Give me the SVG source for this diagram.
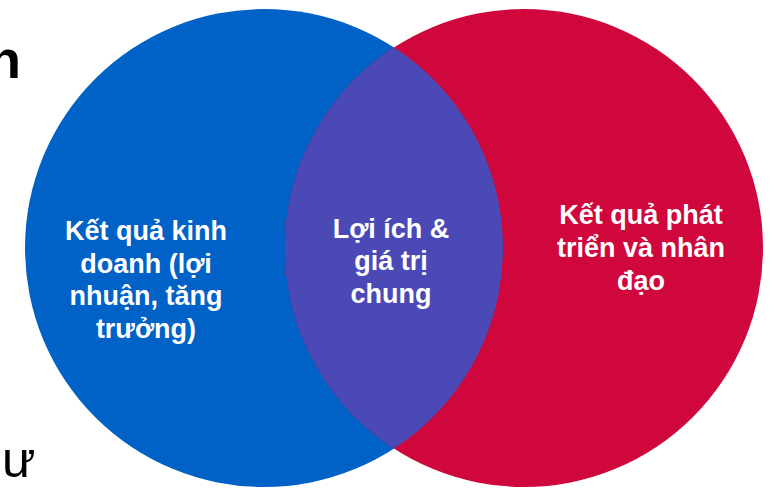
<svg xmlns="http://www.w3.org/2000/svg" width="775" height="488" viewBox="0 0 775 488">
<style>
.lbl{font-family:"Liberation Sans",Arial,sans-serif;font-weight:bold;font-size:27px;fill:#fff;text-anchor:middle}
.bg{font-family:"Liberation Sans",Arial,sans-serif;fill:#000}
</style>
<defs>
<clipPath id="clipBlue"><circle cx="264" cy="248" r="239"/></clipPath>
</defs>
<rect width="775" height="488" fill="#fff"/>
<text class="bg" x="21" y="78" font-size="54" font-weight="bold" text-anchor="end">h</text>
<text class="bg" x="2" y="477" font-size="50">ư</text>
<g id="business">
<circle cx="264" cy="248" r="239" fill="#0061C7"/>
</g>
<g id="humanitarian">
<circle cx="524" cy="248" r="239" fill="#D0073C"/>
</g>
<g id="shared">
<circle cx="524" cy="248" r="239" fill="#4A49B5" clip-path="url(#clipBlue)"/>
</g>
<g id="labels">
<text class="lbl" x="146" y="240">Kết quả kinh</text>
<text class="lbl" x="146" y="273">doanh (lợi</text>
<text class="lbl" x="146" y="305">nhuận, tăng</text>
<text class="lbl" x="146" y="338">trưởng)</text>
<text class="lbl" x="391" y="238">Lợi ích &amp;</text>
<text class="lbl" x="391" y="270">giá trị</text>
<text class="lbl" x="391" y="303">chung</text>
<text class="lbl" x="641" y="224">Kết quả phát</text>
<text class="lbl" x="641" y="257">triển và nhân</text>
<text class="lbl" x="641" y="290">đạo</text>
</g>
<g id="connectors"/>
</svg>
